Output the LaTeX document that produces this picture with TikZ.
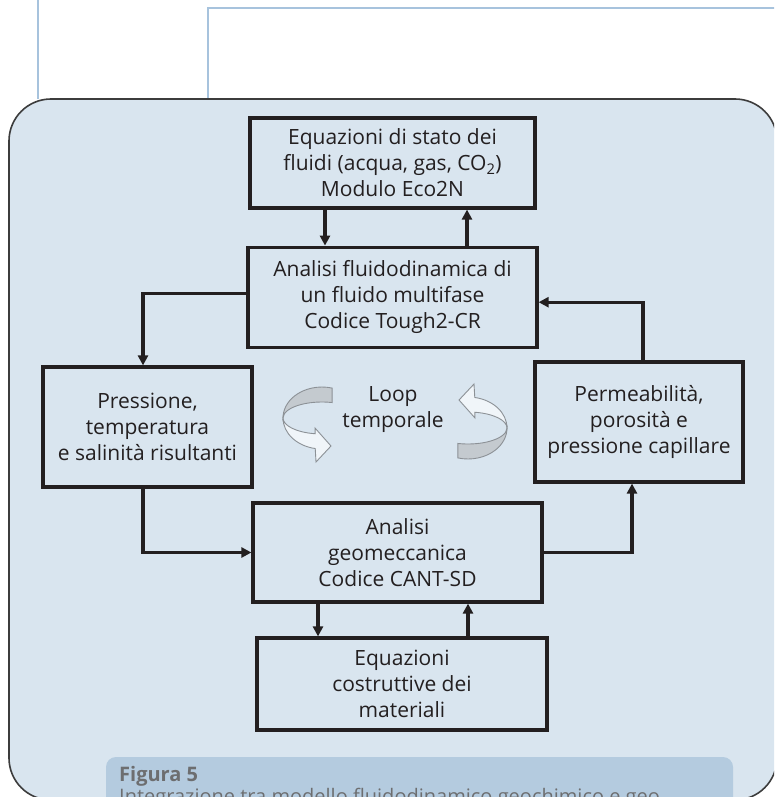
\documentclass[tikz,border=0pt]{standalone}
\usepackage{fontspec}
\setmainfont{Open Sans}
\usepackage{xcolor}
\definecolor{schemaInk}{HTML}{231F20}
\definecolor{schemaBg}{HTML}{D9E5EF}
\definecolor{schemaFrame}{HTML}{3C3C3C}
\definecolor{schemaRule}{HTML}{A7C3DD}
\definecolor{schemaCaption}{HTML}{B4CBDF}
\definecolor{schemaCaptionInk}{HTML}{6D6E70}
\definecolor{schemaRibbon}{HTML}{C4CACF}
\definecolor{schemaRibbonEdge}{HTML}{8C9196}
\usetikzlibrary{arrows.meta,positioning}

\begin{document}
\begin{tikzpicture}[x=1pt, y=-1pt,
    blocco/.style={draw=schemaInk, line width=3.2pt, fill=schemaBg, inner sep=0pt, align=center, text=schemaInk, font=\fontsize{21}{26}\selectfont},
    freccia/.style={-{Triangle[length=10pt,width=10pt]}, line width=3.4pt, schemaInk},
    filo/.style={schemaRule, line width=1.4pt},
    nastro/.pic={
      \filldraw[fill=schemaRibbon, draw=schemaRibbonEdge, line width=0.9pt] (10.09,-29.94) arc[start angle=-75, end angle=-180, x radius=39, y radius=31] arc[start angle=180, end angle=285, x radius=39, y radius=16] -- cycle;
      \filldraw[fill=schemaBg!40!white, draw=schemaRibbonEdge, line width=0.9pt] (-39,0) arc[start angle=180, end angle=100, x radius=39, y radius=31] -- (-6,44) -- (9,28) -- (-7,10) -- (-6.77,15.76) arc[start angle=100, end angle=180, x radius=39, y radius=16] -- cycle;
    }
  ]
    \useasboundingbox (0,0) rectangle (774,797);
    \clip (0,0) rectangle (774,797);
    \fill[white] (0,0) rectangle (774,797);
    % page rules behind the panel
    \draw[filo] (38,0) -- (38,99);
    \draw[filo] (208,99) -- (208,8) -- (776,8);
    % panel and caption
    \draw[draw=schemaFrame, fill=schemaBg, line width=1.6pt, rounded corners=42pt] (9,99) rectangle (777,800);
    \fill[schemaCaption, rounded corners=10pt] (106,757) rectangle (733,830);

    \node[blocco, minimum width=285pt, minimum height=90pt] (eqstato) at (392.5,163) {Equazioni di stato dei\\fluidi (acqua, gas, CO\textsubscript{2})\\Modulo Eco2N};
    \node[blocco, minimum width=289pt, minimum height=100pt, below=36pt of eqstato] (fluido) {Analisi fluidodinamica di\\un fluido multifase\\Codice Tough2-CR};
    \node[blocco, minimum width=209pt, minimum height=120pt] (pressione) at (147.5,427) {Pressione,\\temperatura\\e salinità risultanti};
    \node[blocco, minimum width=208pt, minimum height=120pt] (permea) at (639,422) {Permeabilità,\\porosità e\\pressione capillare};
    \node[blocco, minimum width=289pt, minimum height=99pt] (geomec) at (397.5,552.5) {Analisi\\geomeccanica\\Codice CANT-SD};
    \node[blocco, minimum width=290pt, minimum height=92pt] (costitutive) at (402,684) {Equazioni\\costruttive dei\\materiali};

    \node[align=center, text=schemaInk, font=\fontsize{21}{26}\selectfont] (loop) at (393,410) {Loop\\temporale};
    \pic at (322,418) {nastro};
    \pic[rotate=180] at (468,428) {nastro};

    \draw[freccia] ([xshift=-67.5pt]eqstato.south) -- ([xshift=-67.5pt]fluido.north);
    \draw[freccia] ([xshift=74.5pt]fluido.north) -- ([xshift=74.5pt]eqstato.south);
    \draw[freccia] ([yshift=4pt]fluido.west) -| ([xshift=-4.5pt]pressione.north);
    \draw[freccia] ([xshift=-4.5pt]pressione.south) |- (geomec.west);
    \draw[freccia] (geomec.east) -| ([xshift=-7pt]permea.south);
    \draw[freccia] ([xshift=4pt]permea.north) |- ([yshift=-5pt]fluido.east);
    \draw[freccia] ([xshift=-79.5pt]geomec.south) -- ([xshift=-84pt]costitutive.north);
    \draw[freccia] ([xshift=66pt]costitutive.north) -- ([xshift=70.5pt]geomec.south);

    \node[anchor=base west, inner sep=0pt, text=schemaCaptionInk, font=\fontsize{20}{24}\selectfont\bfseries] (figura) at (119,781) {Figura 5};
    \node[anchor=base west, inner sep=0pt, text=schemaCaptionInk, font=\fontsize{20}{24}\selectfont] (didascalia) at (119,803) {Integrazione tra modello fluidodinamico geochimico e geo};
  \end{tikzpicture}
\end{document}
